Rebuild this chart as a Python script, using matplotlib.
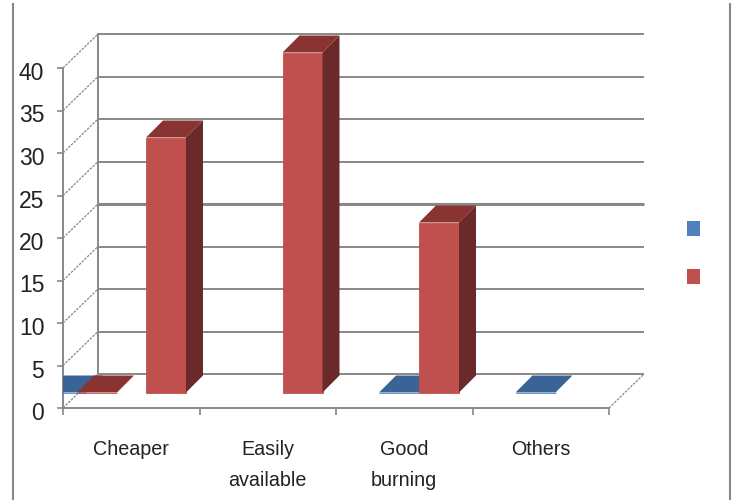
"""Clustered 3D-style column chart of fuel preference reasons."""

import matplotlib

matplotlib.use("Agg")

import matplotlib.pyplot as plt
from matplotlib.lines import Line2D
from matplotlib.patches import Polygon, Rectangle
from matplotlib.transforms import ScaledTranslation

categories = ["Cheaper", "Easily\navailable", "Good\nburning", "Others"]
value_ticks = [0, 5, 10, 15, 20, 25, 30, 35, 40]
blue_values = [None, None, 0, 0]
red_values = [30, 40, 20, None]
# Zero-height slabs sitting at the front-left corner of the first category.
corner_blue_value = 0
corner_red_value = 0

GREY = "#888888"
BLUE_FRONT, BLUE_TOP = "#4F81BD", "#3A6496"
RED_FRONT, RED_TOP, RED_SIDE = "#C0504D", "#8A3432", "#6B2A2A"
TEXT = "#222222"

W, H = 733, 500
PLOT_LEFT, PLOT_RIGHT = 63, 609
PLOT_TOP, PLOT_BOTTOM = 68, 408
px_x = (PLOT_RIGHT - PLOT_LEFT) / len(categories)
px_y = (PLOT_BOTTOM - PLOT_TOP) / value_ticks[-1]

# Offsets in data units, converted from pixel sizes of the 3D box.
WALL_DX, WALL_DY = 35 / px_x, 34 / px_y
BAR_DX, BAR_DY = 17 / px_x, 17 / px_y
FLOOR_Y = 15.5 / px_y
BAR_W = 40 / px_x
BLUE_OFFSET = 43 / px_x
RED_OFFSET = 83 / px_x
CORNER_BLUE_X = -17 / px_x
CORNER_RED_X = 14 / px_x

plt.rcParams["font.family"] = ["Liberation Sans Narrow", "Liberation Sans", "DejaVu Sans"]

fig = plt.figure(figsize=(W / 100, H / 100), dpi=100)
ax = fig.add_axes([
    PLOT_LEFT / W,
    1 - PLOT_BOTTOM / H,
    (PLOT_RIGHT - PLOT_LEFT) / W,
    (PLOT_BOTTOM - PLOT_TOP) / H,
])
ax.set_xlim(0, len(categories))
ax.set_ylim(0, value_ticks[-1])
ax.patch.set_visible(False)
for side in ("top", "right"):
    ax.spines[side].set_visible(False)
for side in ("left", "bottom"):
    ax.spines[side].set_color(GREY)
    ax.spines[side].set_linewidth(1.4)

# Back wall and floor of the 3D box.
n = len(categories)
for v in value_ticks:
    lw = 2.2 if v == 20 else 1.4
    ax.plot([WALL_DX, n + WALL_DX], [v + WALL_DY] * 2, color=GREY, lw=lw,
            clip_on=False, zorder=1, solid_capstyle="butt")
    ax.plot([0, WALL_DX], [v, v + WALL_DY], color=GREY, lw=0.9, ls=(0, (2, 1)),
            clip_on=False, zorder=1)
ax.plot([WALL_DX, WALL_DX], [WALL_DY, value_ticks[-1] + WALL_DY], color=GREY,
        lw=1.4, clip_on=False, zorder=1)
ax.plot([n, n + WALL_DX], [0, WALL_DY], color=GREY, lw=0.9, ls=(0, (2, 1)),
        clip_on=False, zorder=1)


def draw_column(x, value, front, top, side, zorder, clip_left=False):
    """Draw a column with its front, top and right faces."""
    y0, y1 = FLOOR_Y, FLOOR_Y + value
    x1 = x + BAR_W
    faces = [
        ax.bar(x, value, BAR_W, bottom=y0, align="edge", color=front,
               edgecolor=front, linewidth=0.6, zorder=zorder)[0],
        Polygon([(x, y1), (x1, y1), (x1 + BAR_DX, y1 + BAR_DY),
                 (x + BAR_DX, y1 + BAR_DY)], color=top, lw=0, zorder=zorder),
        Polygon([(x1, y0), (x1 + BAR_DX, y0 + BAR_DY),
                 (x1 + BAR_DX, y1 + BAR_DY), (x1, y1)], color=side, lw=0,
                zorder=zorder),
    ]
    for face in faces[1:]:
        ax.add_patch(face)
    for face in faces:
        # Only the left-edge slab is cut off by the axis.
        face.set_clip_on(clip_left)


draw_column(CORNER_BLUE_X, corner_blue_value, BLUE_FRONT, BLUE_TOP, BLUE_TOP, 3,
            clip_left=True)
draw_column(CORNER_RED_X, corner_red_value, RED_FRONT, RED_TOP, RED_SIDE, 4)
for i, value in enumerate(blue_values):
    if value is not None:
        draw_column(i + BLUE_OFFSET, value, BLUE_FRONT, BLUE_TOP, BLUE_TOP, 3)
for i, value in enumerate(red_values):
    if value is not None:
        draw_column(i + RED_OFFSET, value, RED_FRONT, RED_TOP, RED_SIDE, 4)

ax.set_xticks(range(n + 1))
ax.set_xticklabels([])
ax.set_xticks([i + 0.5 for i in range(n)], categories, minor=True)
ax.set_yticks(value_ticks)
ax.tick_params(axis="x", which="major", length=5, width=1.2, color=GREY)
ax.tick_params(axis="x", which="minor", length=0, pad=23, labelsize=14.2,
               labelcolor=TEXT)
ax.tick_params(axis="y", length=4.5, width=1.2, color=GREY, pad=9, labelsize=16.5,
               labelcolor=TEXT)
for label in ax.get_xticklabels(minor=True):
    label.set_linespacing(1.8)
nudge = ScaledTranslation(0, -3 / 100, fig.dpi_scale_trans)
for label in ax.get_yticklabels():
    label.set_transform(label.get_transform() + nudge)

# Outer chart border, left and right edges only.
for x in (12.5, 729.5):
    fig.add_artist(Line2D([x / W, x / W], [0, 1 - 4 / H], color=GREY, lw=1.5))

# Legend swatches.
for y, color in ((221, BLUE_FRONT), (269, RED_FRONT)):
    fig.add_artist(Rectangle((687 / W, 1 - (y + 15) / H), 13 / W, 15 / H,
                             transform=fig.transFigure, color=color, lw=0))

fig.savefig("out.png", dpi=100)
plt.close(fig)
